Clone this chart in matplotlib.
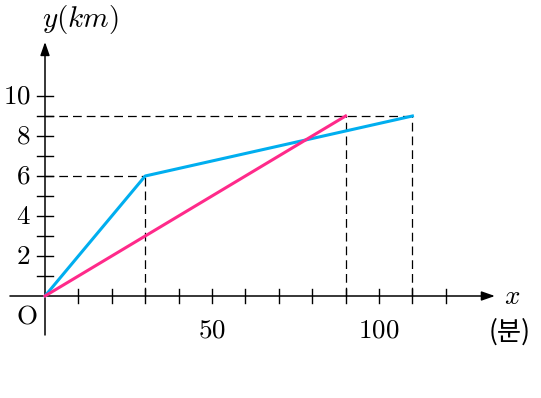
import numpy as np
import matplotlib
matplotlib.use("Agg")
import matplotlib.pyplot as plt

plt.rcParams['mathtext.fontset'] = 'cm'
plt.rcParams['font.family'] = ['DejaVu Serif']

# data
blue_x = [0, 30, 110]
blue_y = [0, 6, 9]
pink_x = [0, 90]
pink_y = [0, 9]

x_ticks = np.arange(10, 130, 10)
y_ticks = np.arange(1, 11, 1)
x_labels = {50: '50', 100: '100'}
y_labels = {2: '2', 4: '4', 6: '6', 8: '8', 10: '10'}

blue = '#00AEEF'
pink = '#FF2A8A'

fig = plt.figure(figsize=(5.41, 3.98), dpi=100)
ax = fig.add_axes([0, 0, 1, 1])
ax.set_xlim(-45 / 3.34, (541 - 45) / 3.34)
ax.set_ylim(-102 / 20, 296 / 20)
ax.axis('off')

# axes with arrows
arr = dict(arrowstyle='-|>,head_length=0.8,head_width=0.28', color='black', lw=1.1,
           shrinkA=0, shrinkB=0)
ax.annotate('', xy=(134.7, 0), xytext=(-10.5, 0), arrowprops=arr)
ax.annotate('', xy=(0, 12.7), xytext=(0, -1.95), arrowprops=arr)

# ticks
for t in x_ticks:
    ax.plot([t, t], [-0.35, 0.35], color='black', lw=1.0)
for t in y_ticks:
    ax.plot([-2.4, 2.4], [t, t], color='black', lw=1.0)

# dashed guides
dash = dict(color='black', lw=0.9, dashes=(7, 4))
for px, py in [(blue_x[1], blue_y[1]), (blue_x[2], blue_y[2])]:
    ax.plot([0, px], [py, py], **dash)
    ax.plot([px, px], [0, py], **dash)
ax.plot([pink_x[1], pink_x[1]], [0, pink_y[1]], **dash)

# lines
ax.plot(blue_x, blue_y, color=blue, lw=2.2, zorder=5)
ax.plot(pink_x, pink_y, color=pink, lw=2.2, zorder=5)

# labels
fs = 19.5
for v, s in y_labels.items():
    ax.text(-4.3, v, '$' + s + '$', ha='right', va='center', fontsize=fs)
for v, s in x_labels.items():
    ax.text(v, -1.7, '$' + s + '$', ha='center', va='center', fontsize=fs)
ax.text(-5.4, -1.0, r'$\mathrm{O}$', ha='center', va='center', fontsize=fs)
ax.text(139.8, -0.05, '$x$', ha='center', va='center', fontsize=fs)
ax.text(10.5, 13.8, '$y(km)$', ha='center', va='center', fontsize=21)
ax.text(139.0, -1.8, '(분)', ha='center', va='center', fontsize=19,
        family=['Noto Sans CJK KR', 'DejaVu Sans'])

fig.savefig('out.png', dpi=100)
